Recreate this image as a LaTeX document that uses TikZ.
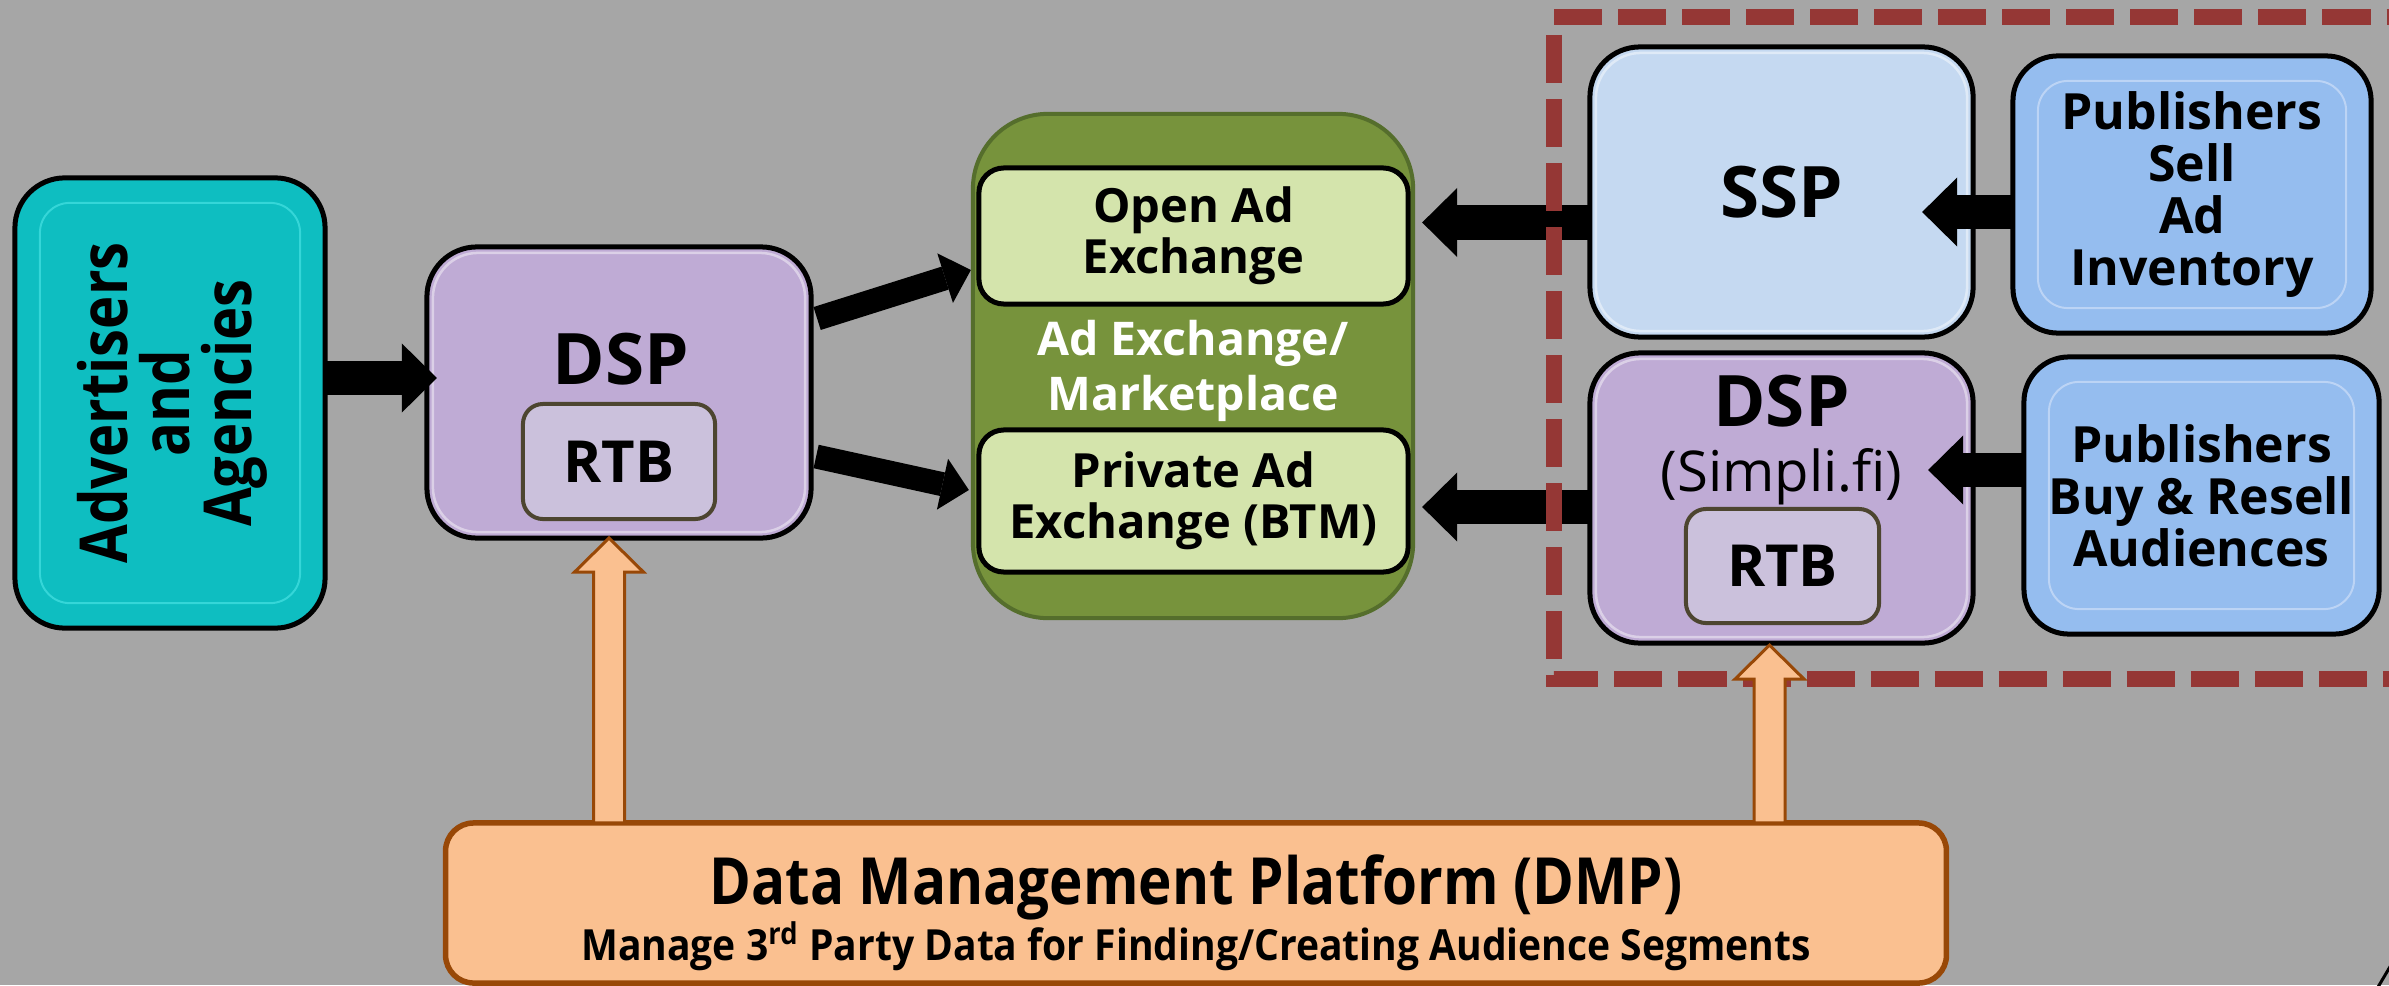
\documentclass[tikz,border=0pt]{standalone}
\usepackage{fontspec}
\setmainfont{Open Sans}
\newfontfamily\narrowTitle{Open Sans}[FakeStretch=0.87]
\newfontfamily\narrowSub{Open Sans}[FakeStretch=0.91]
\newfontfamily\narrowAdv{Open Sans}[FakeStretch=0.85]
\usetikzlibrary{arrows.meta,calc}

\definecolor{bgray}{HTML}{A6A6A6}
\definecolor{advfill}{HTML}{0EBEC1}
\definecolor{advline}{HTML}{35D6D8}
\definecolor{dspfill}{HTML}{BFABD5}
\definecolor{rtbfill}{HTML}{CBC1DC}
\definecolor{rtbline}{HTML}{4D4530}
\definecolor{xchfill}{HTML}{77933C}
\definecolor{xchline}{HTML}{556E2C}
\definecolor{exfill}{HTML}{D4E4AC}
\definecolor{sspfill}{HTML}{C5D9F1}
\definecolor{pubfill}{HTML}{95BDEF}
\definecolor{publine}{HTML}{BCD4F5}
\definecolor{dmpfill}{HTML}{FAC090}
\definecolor{dmpline}{HTML}{984807}
\definecolor{dashred}{HTML}{953735}

\newcommand\fntBig{\fontsize{20.2}{24}\selectfont\bfseries}
\newcommand\fntRtb{\fontsize{16.5}{19}\selectfont\bfseries}
\newcommand\fntEx{\fontsize{13.4}{14.5}\selectfont\bfseries}
\newcommand\fntMkt{\fontsize{13.2}{15.6}\selectfont\bfseries}
\newcommand\fntPub{\fontsize{14.2}{14.8}\selectfont\bfseries}
\newcommand\fntAdv{\narrowAdv\fontsize{18.8}{17.6}\selectfont\bfseries}
\newcommand\fntSimp{\fontsize{16}{19}\selectfont}
\newcommand\fntDmp{\narrowTitle\fontsize{18.5}{22}\selectfont\bfseries}
\newcommand\fntDmpSub{\narrowSub\fontsize{12.2}{14}\selectfont\bfseries}

% block arrow from a tip point down to the top of the DMP box
\newcommand\dmparrow[1]{%
  \coordinate (#1r) at ($(#1)+(15.5,0)$);
  \coordinate (#1l) at ($(#1)+(-15.5,0)$);
  \draw[dmparrowstyle] (#1) -- ($(#1)+(34.5,34)$) -- ($(#1)+(15.5,34)$)
    -- (#1r |- dmp.north) -- (#1l |- dmp.north)
    -- ($(#1)+(-15.5,34)$) -- ($(#1)+(-34.5,34)$) -- cycle;}

\begin{document}
\begin{tikzpicture}[x=0.01cm,y=-0.01cm,
  box/.style={rounded corners=0.5cm, inner sep=0pt, outer sep=0pt,
    align=center, line width=0.05cm, draw=black},
  advbox/.style={box, fill=advfill},
  dspbox/.style={box, fill=dspfill},
  sspbox/.style={box, fill=sspfill, font=\fntBig},
  pubbox/.style={box, fill=pubfill, rounded corners=0.45cm, font=\fntPub},
  rtbbox/.style={box, fill=rtbfill, draw=rtbline, line width=0.04cm,
    rounded corners=0.2cm, font=\fntRtb},
  xchbox/.style={box, fill=xchfill, draw=xchline, line width=0.04cm,
    rounded corners=0.75cm},
  exbox/.style={box, fill=exfill, rounded corners=0.25cm, font=\fntEx},
  dmpbox/.style={box, fill=dmpfill, draw=dmpline, line width=0.055cm,
    rounded corners=0.28cm},
  txt/.style={inner sep=0pt, outer sep=0pt, align=center},
  hilite/.style={draw=white, opacity=0.45, line width=0.025cm,
    rounded corners=0.45cm},
  innerframe/.style={line width=0.02cm, rounded corners=0.3cm},
  blk/.style={line width=0.34cm, black,
    -{Triangle[length=0.35cm, width=0.69cm, line width=0pt]}},
  blkthin/.style={line width=0.24cm, black,
    -{Triangle[length=0.27cm, width=0.52cm, line width=0pt]}},
  dashline/.style={draw=dashred, line width=0.16cm,
    dash pattern=on 0.48cm off 0.16cm},
  dmparrowstyle/.style={draw=dmpline, fill=dmpfill, line width=0.03cm,
    line join=miter},
]
\fill[bgray] (0,0) rectangle (2389,985);
\useasboundingbox (0,0) rectangle (2389,985);

% advertisers
\node[advbox, minimum width=3.10cm, minimum height=4.50cm] (adv) at (170,403) {};
\draw[innerframe, draw=advline] ($(adv.north west)+(25,25)$) rectangle ($(adv.south east)+(-25,-25)$);
\node[txt, rotate=90, font=\fntAdv] (advlbl) at (172,403) {Advertisers\\and\\Agencies};

% buyer side DSP
\node[dspbox, minimum width=3.84cm, minimum height=2.91cm] (dsp) at (619,392.5) {};
\node[txt, font=\fntBig, anchor=base] (dsplbl) at (621,384) {DSP};
\node[rtbbox, minimum width=1.92cm, minimum height=1.15cm] (rtb) at (619,461.5) {RTB};

% exchange
\node[xchbox, minimum width=4.40cm, minimum height=5.04cm] (xch) at (1193,366) {};
\node[exbox, minimum width=4.29cm, minimum height=1.36cm] (open) at (1193.5,236) {Open Ad\\Exchange};
\node[txt, font=\fntMkt, text=white] (mkt) at (1193,371) {Ad Exchange/\\Marketplace};
\node[exbox, minimum width=4.29cm, minimum height=1.42cm] (priv) at (1193.5,501) {Private Ad\\Exchange (BTM)};

% sell side
\node[sspbox, minimum width=3.83cm, minimum height=2.90cm] (ssp) at (1781.5,192) {SSP};
\node[pubbox, minimum width=3.58cm, minimum height=2.77cm] (pubsell) at (2192,194.5) {Publishers\\Sell\\Ad\\Inventory};
\node[dspbox, minimum width=3.83cm, minimum height=2.90cm] (dsp2) at (1781.5,498) {};
\node[txt, font=\fntBig, anchor=base] (dsp2lbl) at (1781.5,426) {DSP};
\node[txt, font=\fntSimp, anchor=base] (simpli) at (1781.5,491) {(Simpli.fi)};
\node[rtbbox, minimum width=1.93cm, minimum height=1.14cm] (rtb2) at (1782.5,566) {RTB};
\node[pubbox, minimum width=3.55cm, minimum height=2.77cm] (pubbuy) at (2201.5,495.5) {Publishers\\Buy \& Resell\\Audiences};

\foreach \n in {dsp,ssp,dsp2}
  \draw[hilite] ($(\n.north west)+(6,6)$) rectangle ($(\n.south east)+(-6,-6)$);
\foreach \n in {pubsell,pubbuy}
  \draw[innerframe, draw=publine] ($(\n.north west)+(25,25)$) rectangle ($(\n.south east)+(-25,-25)$);

% data management platform
\node[dmpbox, minimum width=15.00cm, minimum height=1.60cm] (dmp) at (1196,903) {};
\node[txt, font=\fntDmp, anchor=base] (dmpt) at (1196,904) {Data Management Platform (DMP)};
\node[txt, font=\fntDmpSub, anchor=base] (dmps) at (1196,960) {Manage 3\textsuperscript{rd} Party Data for Finding/Creating Audience Segments};

% black flow arrows
\draw[blk] ($(adv.east)+(0,-25)$) -- ($(dsp.west)+(10,-14.5)$);
\draw[blkthin] ($(dsp.east)+(6,-74)$) -- ($(xch.west)+(-2,-96)$);
\draw[blkthin] ($(dsp.east)+(5,64)$) -- ($(xch.west)+(-4,124)$);
\draw[blk] ($(ssp.west)+(2,30.5)$) -- ($(xch.east)+(9,-143.5)$);
\draw[blk] ($(dsp2.west)+(2,9)$) -- ($(xch.east)+(9,141)$);
\draw[blk] ($(pubsell.west)+(0,17.5)$) -- ($(ssp.east)+(-51,20)$);
\draw[blk] ($(pubbuy.west)+(0,-25.5)$) -- ($(dsp2.east)+(-45,-28)$);

% dashed frame around the sell side
\draw[dashline] (1554,17) -- (2400,17);
\draw[dashline] (1554,35) -- (1554,679) -- (2400,679);

% DMP feeds
\coordinate (tipa) at ($(dsp.south)+(-10,0)$);
\coordinate (tipb) at ($(dsp2.south)+(-12,2)$);
\dmparrow{tipa}
\dmparrow{tipb}

% corner fragment
\draw[line width=0.03cm] (2378,987) -- (2391,965);
\end{tikzpicture}
\end{document}
